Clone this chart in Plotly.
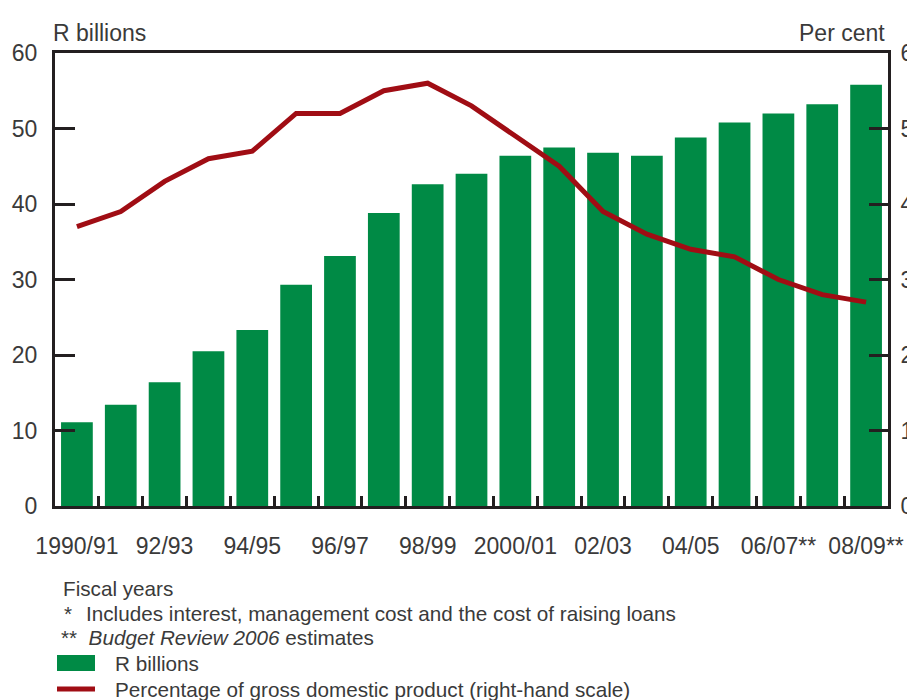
import plotly.graph_objects as go

categories = ["1990/91", "91/92", "92/93", "93/94", "94/95", "95/96", "96/97", "97/98",
              "98/99", "99/00", "2000/01", "01/02", "02/03", "03/04", "04/05", "05/06",
              "06/07**", "07/08**", "08/09**"]
tick_labels = ["1990/91", "", "92/93", "", "94/95", "", "96/97", "", "98/99", "",
               "2000/01", "", "02/03", "", "04/05", "", "06/07**", "", "08/09**"]
r_billions = [11.1, 13.4, 16.4, 20.5, 23.3, 29.3, 33.1, 38.8, 42.6, 44.0,
              46.4, 47.5, 46.8, 46.4, 48.8, 50.8, 52.0, 53.2, 55.8]
pct_gdp = [3.7, 3.9, 4.3, 4.6, 4.7, 5.2, 5.2, 5.5, 5.6, 5.3,
           4.9, 4.5, 3.9, 3.6, 3.4, 3.3, 3.0, 2.8, 2.7]

GREEN = "#008A45"
RED = "#A00D14"
AXIS = "#231F20"
TXT = "#3A3A3A"
FONT = "Liberation Sans"
AX_FS = 23
NOTE_FS = 20.7

fig = go.Figure()
fig.add_trace(go.Bar(x=categories, y=r_billions, marker=dict(color=GREEN, line=dict(width=0)),
                     name="R billions", showlegend=False))
fig.add_trace(go.Scatter(x=categories, y=pct_gdp, yaxis="y2", mode="lines",
                         line=dict(color=RED, width=5), name="Percentage of GDP",
                         showlegend=False))

fig.update_layout(
    width=907, height=692,
    margin=dict(l=47, r=27, t=45, b=194, autoexpand=False),
    plot_bgcolor="white", paper_bgcolor="white",
    bargap=0.276,
    font=dict(family=FONT, color=TXT, size=AX_FS),
    xaxis=dict(
        type="category", tickvals=categories, ticktext=tick_labels,
        tickson="boundaries", ticks="inside", ticklen=10, tickwidth=2.5, tickcolor=AXIS,
        showline=True, linecolor=AXIS, linewidth=3, mirror=True, automargin=False,
        showgrid=False, zeroline=False, tickangle=0,
        ticklabelstandoff=17, tickfont=dict(size=AX_FS, color=TXT),
    ),
    yaxis=dict(
        range=[0, 60], dtick=10, ticks="inside", ticklen=20, tickwidth=2.5, tickcolor=AXIS,
        showline=True, linecolor=AXIS, linewidth=3, showgrid=False, zeroline=False,
        automargin=False, ticklabelstandoff=10, tickfont=dict(size=AX_FS, color=TXT),
    ),
    yaxis2=dict(
        range=[0, 6], dtick=1, overlaying="y", side="right", ticks="inside", ticklen=19,
        tickwidth=2.5, tickcolor=AXIS, showline=True, linecolor=AXIS, linewidth=3,
        showgrid=False, zeroline=False, automargin=False,
        ticklabelstandoff=5, tickfont=dict(size=AX_FS, color=TXT),
    ),
)

ann = []
ann.append(dict(text="R billions", xref="paper", yref="paper", x=0, y=1, xanchor="left",
                yanchor="bottom", yshift=5, xshift=-4, showarrow=False,
                font=dict(size=AX_FS, color=TXT)))
ann.append(dict(text="Per cent", xref="paper", yref="paper", x=1, y=1, xanchor="right",
                yanchor="bottom", yshift=5, xshift=-1, showarrow=False,
                font=dict(size=AX_FS, color=TXT)))

notes = [
    ("Fiscal years", 63, 588),
    ("*", 64, 613),
    ("Includes interest, management cost and the cost of raising loans", 86, 613),
    ("**  <i>Budget Review 2006</i> estimates", 61, 637),
    ("R billions", 115, 663),
    ("Percentage of gross domestic product (right-hand scale)", 115, 689),
]
for txt, px, py in notes:
    ann.append(dict(text=txt, xref="paper", yref="paper", x=0, y=0, xanchor="left",
                    yanchor="middle", xshift=px - 55 - 2, yshift=-(py - 506), showarrow=False,
                    font=dict(size=NOTE_FS, color=TXT)))
fig.update_layout(annotations=ann)

# legend swatches (paper coords: plot is 833 x 453 px)
pw, ph = 833.0, 453.0
fig.add_shape(type="rect", xref="paper", yref="paper",
              x0=(57 - 55) / pw, x1=(95 - 55) / pw, y0=(506 - 671) / ph, y1=(506 - 655) / ph,
              fillcolor=GREEN, line=dict(width=0))
fig.add_shape(type="line", xref="paper", yref="paper",
              x0=(57 - 55) / pw, x1=(95 - 55) / pw, y0=(506 - 689) / ph, y1=(506 - 689) / ph,
              line=dict(color=RED, width=5))

fig.write_html("out.html")
